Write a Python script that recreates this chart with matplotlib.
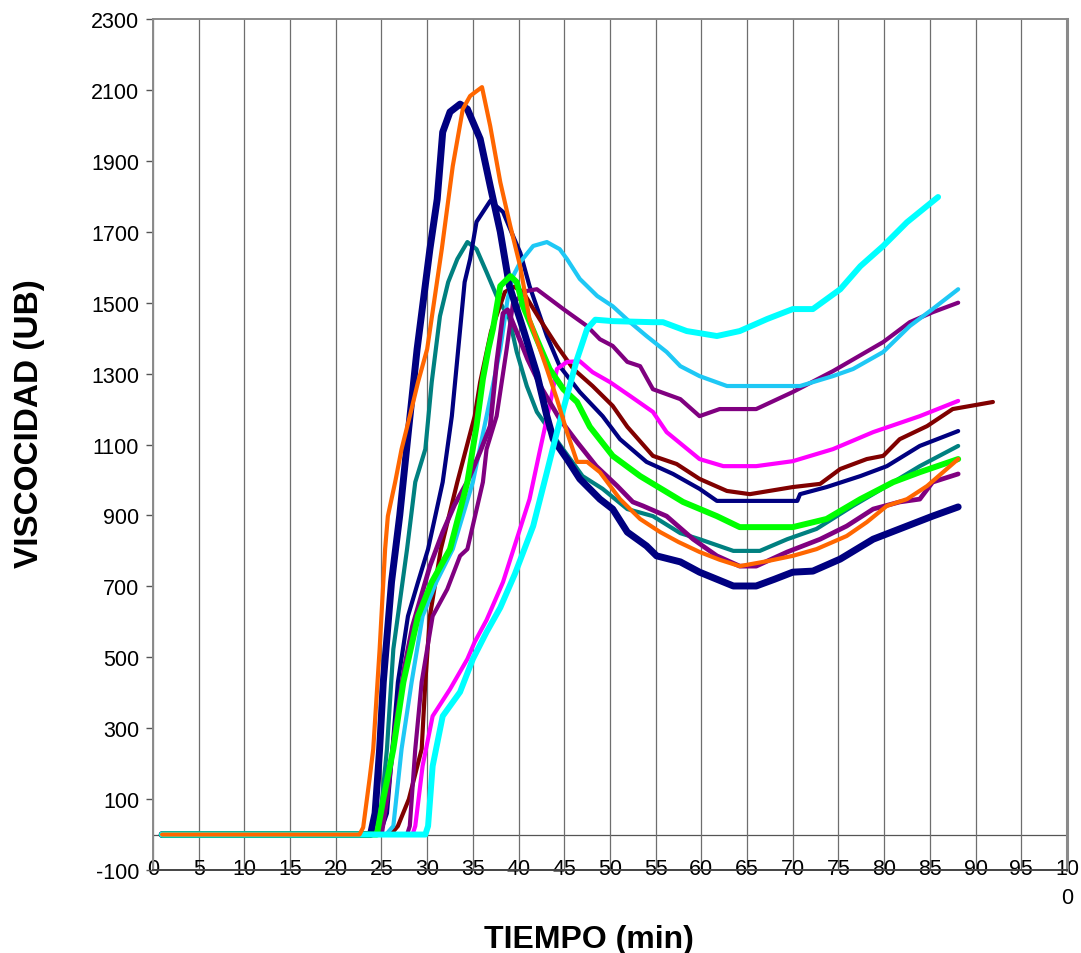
import matplotlib
matplotlib.use("Agg")
import matplotlib.pyplot as plt

plt.rcParams['font.family'] = ['Liberation Sans', 'DejaVu Sans']

# curvas de viscosidad (UB) frente al tiempo (min)
navy_thick_x = [1, 23.8, 24.3, 24.8, 25.2, 26.1, 27.0, 28.0, 28.9, 30.3, 31.1, 31.7, 32.5, 33.6, 34.4, 35.8, 36.9, 38.0,
                39.0, 40.5, 42.0, 43.1, 43.8, 45.3, 46.7, 48.9, 50.3, 51.9, 54.0, 55.1, 57.7, 59.8, 63.5, 66.0, 68.0,
                70.0, 72.2, 75.2, 78.8, 81.7, 85.3, 88.1]
navy_thick_y = [0, 0, 60, 241, 430, 712, 900, 1150, 1369, 1651, 1792, 1981, 2038, 2060, 2046, 1962, 1829, 1700,
                1547, 1426, 1300, 1180, 1115, 1059, 1003, 946, 918, 853, 814, 786, 769, 740, 701, 701, 720,
                740, 743, 777, 833, 862, 898, 924]

orange_x = [1, 22.6, 23.0, 23.7, 24.1, 24.8, 25.4, 25.7, 26.5, 27.2, 28.1, 29.0, 30.0, 31.6, 32.8, 33.9, 34.7, 36.0,
            36.9, 38.0, 39.1, 40.2, 41.2, 43.1, 44.2, 45.3, 46.4, 47.5, 48.9, 51.1, 53.3, 55.5, 57.5, 59.8, 62.0,
            64.2, 67.2, 70.0, 72.6, 75.9, 78.1, 80.3, 82.5, 84.7, 88.1]
orange_y = [0, 0, 20, 157, 241, 523, 805, 898, 994, 1087, 1180, 1276, 1369, 1651, 1885, 2046, 2083, 2108,
            1998, 1840, 1716, 1600, 1454, 1313, 1228, 1135, 1051, 1051, 1022, 946, 890, 853, 825, 797, 775,
            757, 771, 786, 805, 842, 881, 927, 946, 983, 1059]

navy_thin_x = [1, 24.8, 25.6, 26.2, 26.8, 27.9, 29.0, 30.1, 31.7, 32.7, 33.4, 34.1, 34.7, 35.4, 36.9, 38.3, 39.4,
               40.2, 41.2, 43.1, 44.5, 46.7, 49.2, 51.1, 54.0, 56.9, 59.8, 61.7, 70.5, 70.8, 73.7, 77.4, 80.3,
               83.9, 88.1]
navy_thin_y = [0, 0, 60, 241, 430, 616, 712, 805, 994, 1180, 1369, 1558, 1623, 1728, 1787, 1756, 1688,
               1640, 1547, 1406, 1321, 1248, 1180, 1115, 1051, 1017, 975, 941, 941, 960, 980, 1011, 1039,
               1096, 1138]

teal_x = [1, 24.5, 25.0, 25.6, 26.3, 27.8, 28.7, 29.8, 30.5, 31.4, 32.3, 33.3, 34.4, 35.4, 36.5, 37.6, 39.0, 39.8,
          40.9, 42.0, 44.5, 47.0, 49.2, 51.9, 54.7, 57.7, 59.8, 63.5, 66.4, 69.4, 72.6, 76.6, 80.3, 83.9, 88.1]
teal_y = [0, 0, 80, 241, 523, 805, 994, 1087, 1276, 1462, 1558, 1623, 1671, 1651, 1586, 1519, 1454, 1361,
          1265, 1192, 1100, 1011, 975, 918, 898, 850, 833, 800, 800, 833, 862, 927, 983, 1039, 1096]

green_x = [1, 24.5, 25.2, 26.3, 27.4, 29.0, 30.5, 32.5, 34.4, 35.4, 36.1, 36.7, 37.2, 38.0, 39.1, 39.8, 40.5, 42.0,
           43.4, 44.9, 46.4, 47.8, 50.3, 53.3, 56.2, 58.0, 61.7, 64.2, 70.0, 73.7, 77.4, 81.0, 83.9, 88.1]
green_y = [0, 0, 100, 241, 430, 616, 712, 805, 994, 1152, 1285, 1369, 1426, 1547, 1575, 1558, 1490, 1397,
           1313, 1256, 1220, 1150, 1068, 1011, 966, 938, 898, 867, 867, 890, 946, 994, 1022, 1059]

sky_x = [1, 25.5, 26.3, 27.2, 28.3, 29.5, 31.0, 32.8, 35.0, 36.5, 38.0, 38.8, 39.4, 40.2, 41.6, 43.1, 44.5, 45.3,
         46.7, 48.6, 50.3, 52.2, 54.0, 56.2, 57.7, 59.8, 62.8, 70.8, 74.4, 76.6, 79.9, 82.8, 85.3, 88.1]
sky_y = [0, 0, 24, 241, 430, 616, 712, 805, 994, 1180, 1369, 1510, 1575, 1615, 1660, 1671, 1651, 1623,
         1567, 1519, 1490, 1445, 1406, 1361, 1321, 1293, 1265, 1265, 1293, 1313, 1361, 1434, 1482, 1538]

cyan_x = [1, 29.8, 30.1, 30.6, 31.7, 33.6, 35.0, 36.5, 38.0, 39.6, 41.6, 43.1, 44.2, 44.9, 46.4, 47.5, 48.4, 50.3,
          54.7, 55.8, 58.4, 61.7, 64.2, 67.2, 70.0, 72.2, 75.2, 77.4, 79.9, 82.5, 85.9]
cyan_y = [0, 0, 24, 193, 334, 402, 495, 571, 640, 735, 870, 1022, 1135, 1200, 1341, 1426, 1452, 1448,
          1445, 1445, 1420, 1406, 1420, 1454, 1482, 1482, 1538, 1603, 1660, 1727, 1798]

magenta_x = [1, 28.4, 28.7, 29.5, 30.6, 32.5, 34.4, 35.2, 36.5, 38.3, 39.8, 41.2, 42.3, 43.4, 44.2, 45.3, 46.7,
             48.1, 50.0, 52.2, 54.7, 56.2, 59.8, 62.4, 66.0, 70.0, 74.4, 78.8, 83.9, 88.1]
magenta_y = [0, 0, 24, 193, 334, 410, 495, 543, 605, 712, 833, 946, 1079, 1209, 1313, 1333, 1335,
             1304, 1276, 1237, 1192, 1135, 1059, 1039, 1039, 1053, 1087, 1135, 1180, 1223]

maroon_x = [1, 26.0, 26.8, 28.0, 29.4, 29.8, 30.3, 31.5, 33.3, 35.2, 35.8, 37.0, 38.5, 39.5, 40.5, 42.3, 44.2,
            46.0, 48.1, 50.3, 51.9, 54.7, 57.3, 59.8, 62.8, 65.3, 70.0, 73.0, 75.2, 78.1, 79.9, 81.7, 84.7,
            87.5, 91.9]
maroon_y = [0, 0, 24, 100, 241, 430, 616, 805, 994, 1180, 1276, 1420, 1530, 1545, 1530, 1454, 1378,
            1313, 1265, 1209, 1150, 1068, 1045, 1003, 969, 960, 980, 989, 1031, 1059, 1068, 1115, 1152,
            1200, 1220]

purple_hi_x = [1, 27.8, 28.1, 28.7, 29.4, 30.6, 32.2, 33.6, 34.4, 36.1, 36.5, 37.6, 38.7, 39.4, 40.9, 42.0, 44.9,
               47.5, 48.9, 50.3, 51.9, 53.3, 54.7, 57.7, 59.8, 62.0, 66.0, 70.0, 74.4, 79.9, 82.8, 85.3, 88.1]
purple_hi_y = [0, 0, 24, 241, 430, 616, 692, 786, 805, 994, 1087, 1180, 1369, 1500, 1533, 1538, 1482,
               1434, 1397, 1378, 1333, 1321, 1256, 1228, 1180, 1200, 1200, 1248, 1307, 1389, 1445, 1473, 1500]

purple_lo_x = [1, 25.0, 25.6, 26.5, 27.5, 28.4, 30.3, 31.7, 33.0, 34.5, 35.8, 36.9, 37.6, 38.3, 38.8, 39.8, 41.0,
               42.5, 44.5, 46.4, 48.5, 50.8, 52.5, 53.6, 56.2, 59.1, 61.7, 64.2, 66.0, 69.4, 73.0, 75.9, 78.8,
               81.7, 83.9, 85.3, 88.1]
purple_lo_y = [0, 0, 100, 300, 470, 588, 757, 853, 930, 1000, 1080, 1152, 1330, 1470, 1480, 1417, 1340,
               1260, 1172, 1107, 1039, 983, 938, 927, 898, 833, 786, 757, 757, 797, 833, 870, 918,
               938, 946, 994, 1017]

x_ticks = list(range(0, 101, 5))
x_tick_labels = [str(t) for t in x_ticks[:-1]] + ['10\n0']
y_ticks = list(range(-100, 2301, 200))

fig = plt.figure(figsize=(10.81, 9.54), dpi=100)
ax = fig.add_axes([0.1415, 0.087, 0.8455, 0.892])

# (x, y, color, linewidth) in drawing order
series = [
    (teal_x, teal_y, '#008080', 3.0),
    (navy_thin_x, navy_thin_y, '#000080', 3.0),
    (maroon_x, maroon_y, '#800000', 3.0),
    (purple_hi_x, purple_hi_y, '#800080', 3.0),
    (magenta_x, magenta_y, '#FF00FF', 3.0),
    (sky_x, sky_y, '#1EC8F5', 3.0),
    (purple_lo_x, purple_lo_y, '#800080', 3.4),
    (navy_thick_x, navy_thick_y, '#000080', 5.0),
    (green_x, green_y, '#00FF00', 4.3),
    (cyan_x, cyan_y, '#00FFFF', 4.3),
    (orange_x, orange_y, '#FF6600', 3.0),
]
for xs, ys, col, lw in series:
    ax.plot(xs, ys, color=col, lw=lw, solid_joinstyle='round', solid_capstyle='round')

ax.set_xlim(0, 100)
ax.set_ylim(-100, 2300)
ax.set_xticks(x_ticks)
ax.set_xticklabels(x_tick_labels, fontsize=15.5)
for lbl in ax.get_xticklabels():
    lbl.set_linespacing(1.55)
ax.set_yticks(y_ticks)
ax.set_yticklabels([str(v) for v in y_ticks], fontsize=15.5)
ax.tick_params(axis='x', length=0, pad=-9)
ax.tick_params(axis='y', length=5, width=1, color='#555555', pad=5)

ax.grid(True, axis='x', color='#6e6e6e', lw=0.9)
ax.axhline(0, color='#555555', lw=0.9, zorder=0.5)
ax.set_axisbelow(True)

for side in ['left', 'top']:
    ax.spines[side].set_color('#8a8a8a')
    ax.spines[side].set_linewidth(1.4)
ax.spines['right'].set_color('#8a8a8a')
ax.spines['right'].set_linewidth(2.2)
ax.spines['bottom'].set_color('#444444')
ax.spines['bottom'].set_linewidth(1.4)

ax.set_xlabel('TIEMPO (min)', fontsize=23, fontweight='bold')
ax.set_ylabel('VISCOCIDAD (UB)', fontsize=24, fontweight='bold')
ax.xaxis.set_label_coords(0.4765, -0.064)
ax.yaxis.set_label_coords(-0.118, 0.526)

fig.savefig('out.png', dpi=100)
